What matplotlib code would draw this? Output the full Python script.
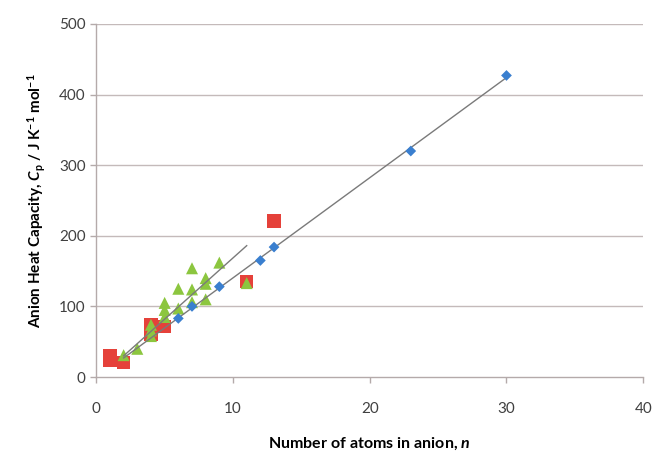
import numpy as np
import matplotlib
matplotlib.use("Agg")
import matplotlib.pyplot as plt

plt.rcParams['font.family'] = ['Lato', 'DejaVu Sans']
plt.rcParams['mathtext.fontset'] = 'custom'
plt.rcParams['mathtext.rm'] = 'Lato:bold'
plt.rcParams['mathtext.it'] = 'Lato:bold:italic'
plt.rcParams['mathtext.bf'] = 'Lato:bold'

# Data
blue_x = [6, 7, 9, 12, 13, 23, 30]
blue_y = [83, 100, 128, 165, 184, 320, 427]

red_x = [1, 1, 2, 4, 4, 5, 11, 13]
red_y = [24, 31, 21, 74, 60, 72, 135, 221]

green_x = [2, 3, 4, 4, 4, 5, 5, 5, 6, 6, 7, 7, 7, 8, 8, 8, 9, 11]
green_y = [31, 40, 58, 66, 74, 85, 95, 105, 97, 125, 106, 124, 154, 110, 132, 140, 162, 133]

# trend lines (end points)
blue_fit_x = [2, 30]
blue_fit_y = [27, 424]
green_fit_x = [2, 11]
green_fit_y = [30, 186]

x_ticks = [0, 10, 20, 30, 40]
y_ticks = [0, 100, 200, 300, 400, 500]

fig = plt.figure(figsize=(6.55, 4.51), dpi=100)
ax = fig.add_axes([0.147, 0.164, 0.835, 0.783])

grid_c = '#c4baba'
ax.set_xlim(0, 40)
ax.set_ylim(0, 500)
ax.set_xticks(x_ticks)
ax.set_yticks(y_ticks)
for y in y_ticks[1:]:
    ax.axhline(y, color=grid_c, lw=1.0, zorder=0)

ax.plot(blue_fit_x, blue_fit_y, color='#7a7a7a', lw=1.0, zorder=3)
ax.plot(green_fit_x, green_fit_y, color='#7a7a7a', lw=1.0, zorder=3)

ax.scatter(red_x, red_y, marker='s', s=90, color='#e5413a', edgecolors='none', zorder=2)
ax.scatter(green_x, green_y, marker='^', s=75, color='#8cc63f', edgecolors='none', zorder=2)
ax.scatter(blue_x, blue_y, marker='D', s=30, color='#3a7fcf', edgecolors='none', zorder=4)

for s in ['top', 'right']:
    ax.spines[s].set_visible(False)
for s in ['left', 'bottom']:
    ax.spines[s].set_color('#b4aaaa')
    ax.spines[s].set_linewidth(1.0)
ax.tick_params(axis='both', colors='#b4aaaa', labelcolor='#404040', labelsize=11, length=4, width=1.0)
ax.tick_params(axis='x', pad=14)

ax.set_xlabel('Number of atoms in anion, $n$', fontsize=11.5, fontweight='bold', labelpad=14)
ax.set_ylabel('Anion Heat Capacity, $C_\\mathrm{p}$ / J K$^{\\mathrm{-1}}$ mol$^{\\mathrm{-1}}$',
              fontsize=11, fontweight='bold', labelpad=8)

fig.savefig('out.png', dpi=100, facecolor='white')
